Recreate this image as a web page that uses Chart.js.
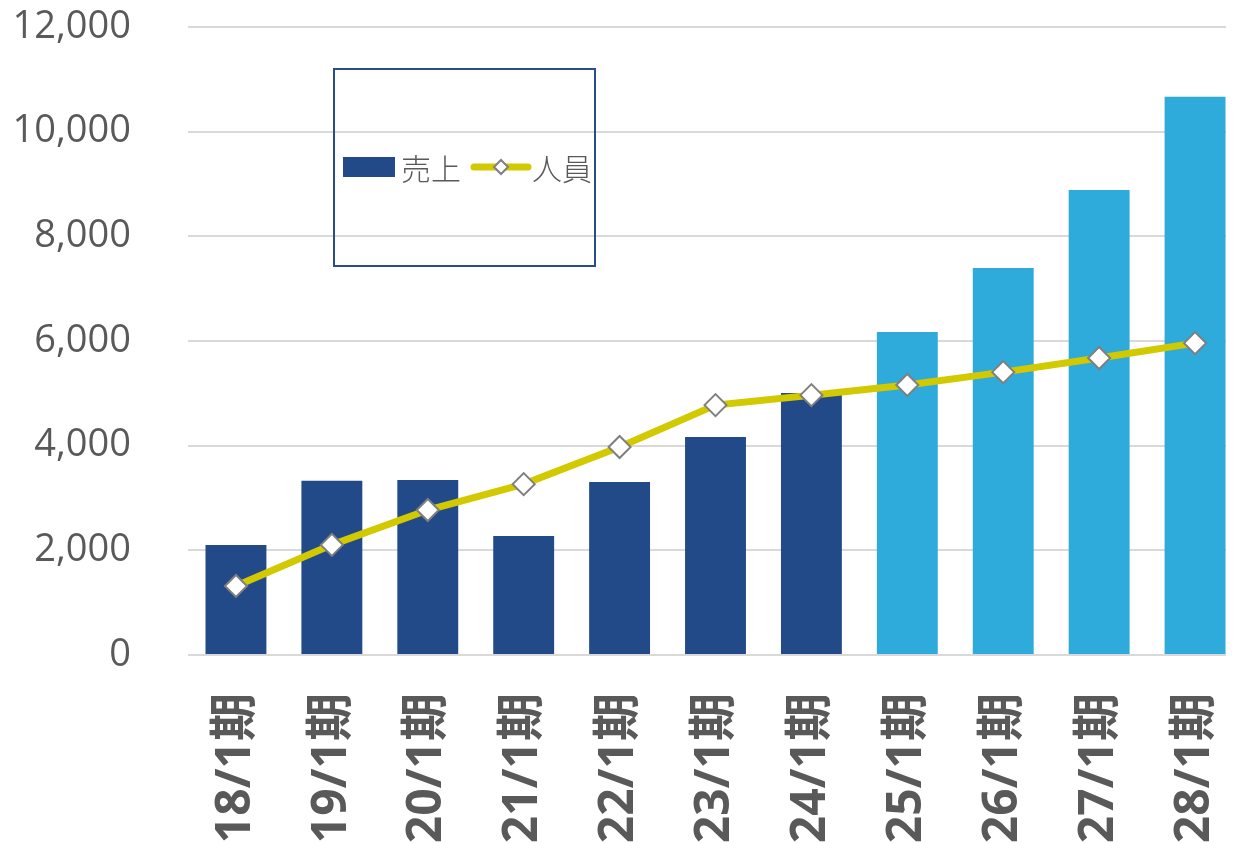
<!DOCTYPE html>
<html>
<head>
<meta charset="utf-8">
<script src="https://cdn.jsdelivr.net/npm/chart.js@4.4.1/dist/chart.umd.min.js"></script>
<style>
  html, body { margin: 0; padding: 0; background: #fff; overflow: hidden; }
  #wrap { position: relative; width: 1238px; height: 843px; overflow: hidden; }
  #legend {
    position: absolute; left: 333px; top: 68px; width: 259px; height: 195px;
    border: 2px solid #2B4C8C; box-sizing: content-box;
    font-family: "Open Sans", "Noto Sans CJK JP", sans-serif; color: #595959;
  }
  .item { position: absolute; top: 82px; height: 30px; line-height: 30px; font-size: 30px; }
  .swatch { position: absolute; }
</style>
</head>
<body>
<div id="wrap">
  <canvas id="c" width="1256" height="843"></canvas>
  <div id="legend">
    <div class="swatch" style="left:8px;top:87px;width:52px;height:20px;background:#224A88;"></div>
    <div class="item" style="left:66px;font-family:'Noto Sans CJK JP';font-weight:300;">売上</div>
    <svg class="swatch" style="left:135px;top:85px;" width="62" height="24">
      <line x1="4" y1="12" x2="58" y2="12" stroke="#D2C900" stroke-width="7" stroke-linecap="round"/>
      <polygon points="31,5 38,12 31,19 24,12" fill="#fff" stroke="#7F7F7F" stroke-width="2"/>
    </svg>
    <div class="item" style="left:197px;font-family:'Noto Sans CJK JP';font-weight:300;">人員</div>
  </div>
</div>
<script>
const categories = ["18/1期","19/1期","20/1期","21/1期","22/1期","23/1期","24/1期","25/1期","26/1期","27/1期","28/1期"];
const sales = [2100, 3330, 3345, 2275, 3305, 4165, 5005, 6170, 7395, 8885, 10665];
const staff = [1320, 2105, 2770, 3265, 3975, 4775, 4965, 5160, 5405, 5675, 5960];
const yTicks = [0, 2000, 4000, 6000, 8000, 10000, 12000];
const actualCount = 7;

const barColors = categories.map((_, i) => i < actualCount ? "#224A88" : "#2EAADB");

// trims the gridlines at the right edge of the visible plot, like the reference
const gridTrim = {
  id: "gridTrim",
  beforeDatasetsDraw(chart) {
    const a = chart.chartArea, ctx = chart.ctx;
    ctx.save();
    ctx.fillStyle = "#ffffff";
    ctx.fillRect(1226, a.top - 3, chart.width - 1226, a.bottom - a.top + 6);
    ctx.restore();
  }
};

new Chart(document.getElementById("c"), {
  type: "bar",
  data: {
    labels: categories,
    datasets: [
      {
        type: "line",
        label: "人員",
        data: staff,
        order: 0,
        borderColor: "#D2C900",
        borderWidth: 7,
        tension: 0,
        pointStyle: "rectRot",
        pointRadius: 11,
        pointBackgroundColor: "#ffffff",
        pointBorderColor: "#7F7F7F",
        pointBorderWidth: 2
      },
      {
        type: "bar",
        label: "売上",
        data: sales,
        order: 1,
        backgroundColor: barColors,
        barPercentage: 0.635,
        categoryPercentage: 1.0
      }
    ]
  },
  plugins: [gridTrim],
  options: {
    responsive: false,
    animation: false,
    devicePixelRatio: 1,
    layout: { padding: { top: 27, right: 13, left: 0, bottom: 0 } },
    plugins: { legend: { display: false }, tooltip: { enabled: false } },
    scales: {
      x: {
        grid: { display: false, drawTicks: false },
        border: { display: false },
        ticks: {
          autoSkip: false, minRotation: 90, maxRotation: 90, padding: 38,
          color: "#595959",
          font: { family: "'Open Sans', 'Noto Sans CJK JP', sans-serif", size: 48, weight: "bold" }
        },
        afterFit: s => { s.height = 188; s.paddingLeft = 0; s.paddingRight = 0; }
      },
      y: {
        min: 0, max: 12000,
        afterBuildTicks: s => { s.ticks = yTicks.map(v => ({ value: v })); },
        grid: { color: "#D9D9D9", lineWidth: 2, drawTicks: false },
        border: { display: false },
        ticks: {
          padding: 57, color: "#595959",
          font: { family: "'Open Sans', sans-serif", size: 38 },
          callback: v => v.toLocaleString("en-US")
        },
        afterFit: s => { s.width = 188; s.paddingTop = 0; s.paddingBottom = 0; }
      }
    }
  }
});
</script>
</body>
</html>
